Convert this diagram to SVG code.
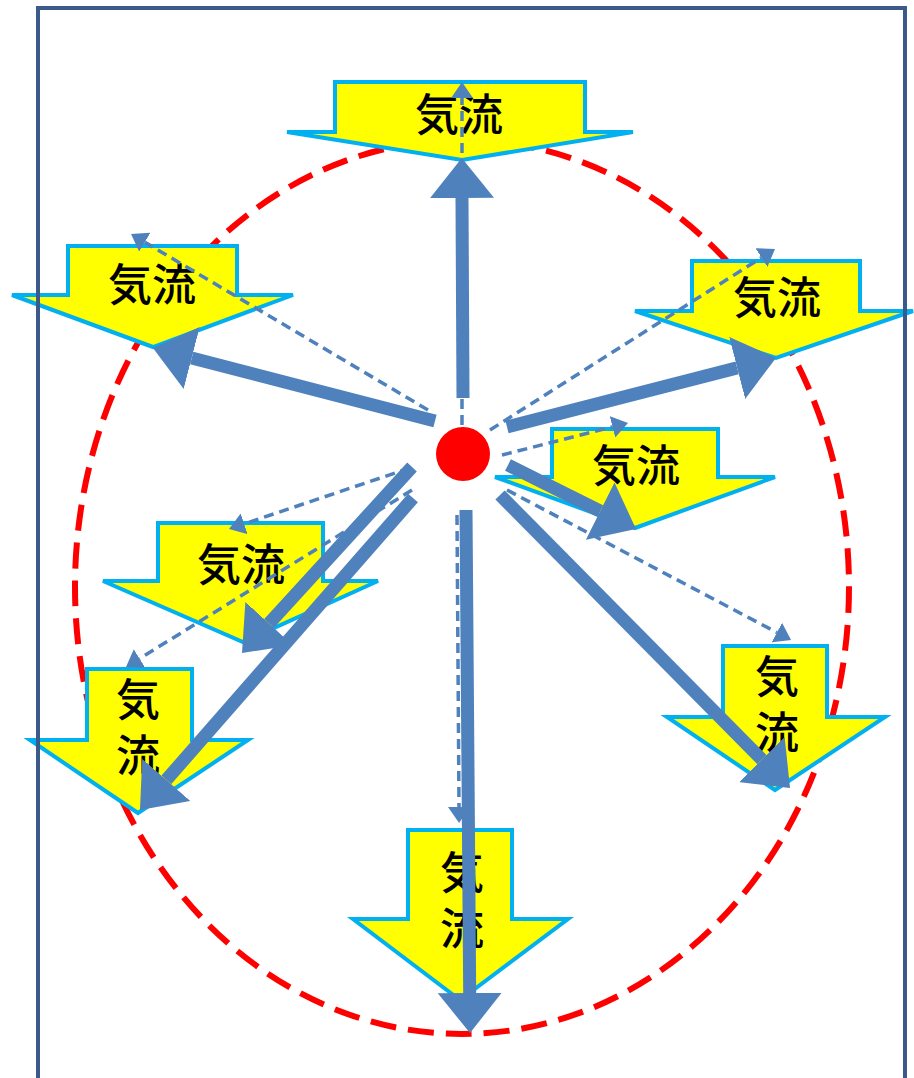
<svg xmlns="http://www.w3.org/2000/svg" width="914" height="1078" viewBox="0 0 914 1078">
<defs>
<style>
.flow{fill:#FFFF00;stroke:#00B0F0;stroke-width:4;stroke-linejoin:miter}
.lbl{font-family:"Noto Sans CJK JP","Noto Sans CJK SC",sans-serif;font-size:44px;font-weight:500;fill:#000;text-anchor:middle;dominant-baseline:central}
.vlbl{font-family:"Noto Sans CJK JP","Noto Sans CJK SC",sans-serif;font-size:44px;font-weight:500;fill:#000;text-anchor:middle;writing-mode:vertical-rl;letter-spacing:12px}
.thick{stroke:#4F81BD;stroke-width:13;fill:none;marker-end:url(#bigHead)}
.thin{stroke:#4F81BD;stroke-width:3.5;fill:none;stroke-dasharray:10 6;marker-end:url(#smallHead)}
</style>
<marker id="bigHead" markerUnits="userSpaceOnUse" viewBox="0 0 40 64" markerWidth="40" markerHeight="64" refX="0" refY="32" orient="auto">
<path d="M0,0 L40,32 L0,64 Z" fill="#4F81BD"/>
</marker>
<marker id="smallHead" markerUnits="userSpaceOnUse" viewBox="0 0 16 22" markerWidth="16" markerHeight="22" refX="0" refY="11" orient="auto">
<path d="M0,0 L16,11 L0,22 Z" fill="#4F81BD"/>
</marker>
</defs>
<rect width="914" height="1078" fill="#FFFFFF"/>
<ellipse id="boundary" cx="462" cy="587" rx="387" ry="447" fill="none" stroke="#FF0000" stroke-width="6" stroke-dasharray="26 12"/>
<g id="flow-top">
<polygon class="flow" points="335,82 585,82 585,132 633,132 462,160 287,132 335,132"/>
<text class="lbl" x="459" y="112">気流</text>
</g>
<g id="flow-upleft">
<polygon class="flow" points="68,246 237,246 237,295 293,295 153,347 12,295 68,295"/>
<text class="lbl" x="152" y="282">気流</text>
</g>
<g id="flow-upright">
<polygon class="flow" points="692,261 860,261 860,311 913,311 776,358 635,311 692,311"/>
<text class="lbl" x="777" y="295">気流</text>
</g>
<g id="flow-midright">
<polygon class="flow" points="552,429 718,429 718,477 775,477 635,528 495,477 552,477"/>
<text class="lbl" x="636" y="463">気流</text>
</g>
<g id="flow-midleft">
<polygon class="flow" points="158,523 323,523 323,581 378,581 243,642 103,581 158,581"/>
<text class="lbl" x="241" y="562">気流</text>
</g>
<g id="flow-lowleft">
<polygon class="flow" points="87,669 192,669 192,740 248,740 138,813 30,740 87,740"/>
<text class="vlbl" x="138" y="733">気流</text>
</g>
<g id="flow-lowright">
<polygon class="flow" points="723,646 827,646 827,717 885,717 775,790 667,717 723,717"/>
<text class="vlbl" x="777" y="710">気流</text>
</g>
<g id="flow-bottom">
<polygon class="flow" points="408,830 512,830 512,919 568,919 460,1000 353,919 408,919"/>
<text class="vlbl" x="462" y="906">気流</text>
</g>
<g id="connectors">
<line class="thin" x1="462" y1="425" x2="462" y2="98"/>
<line class="thin" x1="428" y1="410" x2="144.8" y2="242.2"/>
<line class="thin" x1="490" y1="430" x2="761.5" y2="257.6"/>
<line class="thin" x1="502" y1="455" x2="612.5" y2="426.9"/>
<line class="thin" x1="507" y1="490" x2="776.9" y2="632.5"/>
<line class="thin" x1="457" y1="515" x2="459" y2="807"/>
<line class="thin" x1="410" y1="468" x2="244.2" y2="523.9"/>
<line class="thin" x1="412" y1="490" x2="139.6" y2="658.6"/>
<line class="thick" x1="463" y1="398" x2="462" y2="198"/>
<line class="thick" x1="435" y1="421" x2="191.7" y2="358"/>
<line class="thick" x1="507" y1="427" x2="737.2" y2="367.9"/>
<line class="thick" x1="508" y1="465" x2="600.2" y2="511.1"/>
<line class="thick" x1="500" y1="495" x2="761.9" y2="759.6"/>
<line class="thick" x1="466" y1="510" x2="469.7" y2="993"/>
<line class="thick" x1="412" y1="467" x2="269" y2="623.5"/>
<line class="thick" x1="413" y1="498" x2="166.3" y2="779.9"/>
</g>
<g id="source">
<circle cx="463" cy="454" r="27" fill="#FF0000"/>
</g>
<rect id="frame" x="38" y="8" width="867" height="1080" fill="none" stroke="#3B5A8A" stroke-width="4"/>
</svg>
